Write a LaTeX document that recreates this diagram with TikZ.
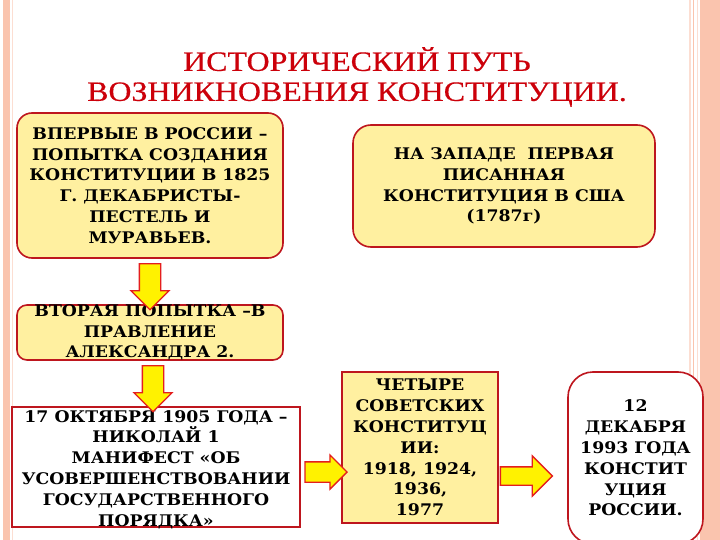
\documentclass[tikz,border=0pt]{standalone}
\usepackage{fontspec}
\setmainfont{DejaVu Serif}[FakeStretch=1.08]
\newfontfamily\titlefont[FakeStretch=1.14, FakeBold=0.5]{Liberation Serif}
\usepackage{tikz}
\usetikzlibrary{shapes.arrows, positioning, calc}
\definecolor{salmonband}{RGB}{250,196,174}
\definecolor{paleband}{RGB}{252,222,210}
\definecolor{boxyellow}{RGB}{255,240,160}
\definecolor{boxborder}{RGB}{190,22,30}
\definecolor{titlered}{RGB}{204,0,10}
\definecolor{arrowred}{RGB}{228,30,30}

\begin{document}
\begin{tikzpicture}[x=1pt, y=-1pt,
		box/.style={draw=boxborder, line width=1.6pt, fill=boxyellow, inner sep=0pt},
		roundbox/.style={box, rounded corners=#1},
		boxtext/.style={align=center, inner sep=0pt, font=\fontsize{16}{20.8}\selectfont\bfseries},
		barrow/.style={single arrow, draw=arrowred, line width=1.3pt, fill=yellow, inner xsep=0pt, inner ysep=10pt, single arrow head extend=8.5pt, single arrow tip angle=90},
		heading/.style={align=center, text=titlered, font=\titlefont\fontsize{28}{30}\selectfont}]
		\useasboundingbox (0,0) rectangle (720,540);
		\fill[white] (0,0) rectangle (720,540);
		\fill[salmonband] (3,0) rectangle (10,540);
		\fill[paleband] (11.5,0) rectangle (13,540);
		\fill[paleband] (689,0) rectangle (690.5,540);
		\fill[salmonband] (692.5,0) rectangle (694,540);
		\fill[paleband] (696.5,0) rectangle (698,540);
		\fill[salmonband] (700,0) rectangle (720,540);
		
		\node[heading] (title) at (357,77) {ИСТОРИЧЕСКИЙ ПУТЬ\\ВОЗНИКНОВЕНИЯ КОНСТИТУЦИИ.};
		
		\node[roundbox=15pt, minimum width=266pt, minimum height=145pt] (b1) at (150,185.5) {};
		\node[boxtext] (t1) at (b1) {ВПЕРВЫЕ В РОССИИ –\\ПОПЫТКА СОЗДАНИЯ\\КОНСТИТУЦИИ В 1825\\Г. ДЕКАБРИСТЫ-\\ПЕСТЕЛЬ И\\МУРАВЬЕВ.};
		
		\node[roundbox=18pt, minimum width=302pt, minimum height=122pt] (b2) at (504,186) {};
		\node[boxtext] (t2) at (b2) {НА ЗАПАДЕ \ ПЕРВАЯ\\ПИСАННАЯ\\КОНСТИТУЦИЯ В США\\(1787г)};
		
		\node[roundbox=10pt, minimum width=266pt, minimum height=55pt] (b3) at (150,332.5) {};
		\node[boxtext] (t3) at (b3) {ВТОРАЯ ПОПЫТКА –В\\ПРАВЛЕНИЕ\\АЛЕКСАНДРА 2.};
		
		\node[box, fill=white, minimum width=288pt, minimum height=120pt] (b4) at (156,467) {};
		\node[boxtext] (t4) at ($(b4)+(0,2.5)$) {17 ОКТЯБРЯ 1905 ГОДА –\\НИКОЛАЙ 1\\МАНИФЕСТ «ОБ\\УСОВЕРШЕНСТВОВАНИИ\\ГОСУДАРСТВЕННОГО\\ПОРЯДКА»};
		
		\node[box, minimum width=156pt, minimum height=151pt] (b5) at (420,447.5) {};
		\node[boxtext] (t5) at (b5) {ЧЕТЫРЕ\\СОВЕТСКИХ\\КОНСТИТУЦ\\ИИ:\\1918, 1924,\\1936,\\1977};
		
		\node[roundbox=25pt, fill=white, minimum width=135pt, minimum height=172pt] (b6) at (635.5,458) {};
		\node[boxtext] (t6) at (b6) {12\\ДЕКАБРЯ\\1993 ГОДА\\КОНСТИТ\\УЦИЯ\\РОССИИ.};
		
		\node[barrow, rotate=-90, minimum height=46pt] (a1) at ($(b1.south)!0.5!(b3.north)$) {};
		\node[barrow, rotate=-90, minimum height=46pt] (a2) at ($(b3.south)!0.5!(b4.north)$) {};
		\node[barrow, inner ysep=9.5pt, single arrow head extend=7pt, minimum height=42pt] (a3) at ($(b4.east |- 0,472)!0.5!(b5.west |- 0,472)$) {};
		\node[barrow, inner ysep=8.5pt, single arrow head extend=11pt, minimum height=52pt] (a4) at ($(b5.east |- 0,476)+(23,0)$) {};
\end{tikzpicture}
\end{document}
